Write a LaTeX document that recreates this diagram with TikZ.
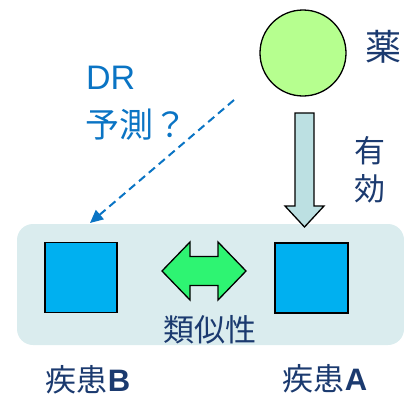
\documentclass[tikz,border=0pt]{standalone}
\usepackage{fontspec}
\setmainfont{Liberation Sans}
\newfontfamily\jp{Noto Sans CJK JP}
\newfontfamily\latb{Liberation Sans}[BoldFont={Liberation Sans Bold}]
\usetikzlibrary{arrows.meta}
\definecolor{navy}{HTML}{1B3A6F}
\definecolor{drblue}{HTML}{0A74C4}
\definecolor{lgreen}{HTML}{B6FF8F}
\definecolor{bgbox}{HTML}{DAECEE}
\definecolor{sqblue}{HTML}{00B0F0}
\definecolor{arrowfill}{HTML}{BCE0E2}
\definecolor{dgreen}{HTML}{2EF472}
\tikzset{
  lbl/.style={inner sep=0pt, text=navy, font=\jp\fontsize{31}{37}\selectfont},
  drlbl/.style={inner sep=0pt, text=drblue, anchor=west},
  disease/.style={draw=black, line width=1.4pt, fill=sqblue, minimum width=72pt, minimum height=70pt, inner sep=0pt},
  blockarrow/.style={draw=black, line width=1.3pt, line join=miter},
}
\begin{document}
\begin{tikzpicture}[x=1pt,y=-1pt]
\useasboundingbox (0,0) rectangle (404,397);
% background
\node[fill=bgbox, rounded corners=16pt, minimum width=387pt, minimum height=121pt, inner sep=0pt] (bg) at (210.5,284.5) {};
% drug
\node[circle, draw=black, line width=1.3pt, fill=lgreen, minimum size=86pt, inner sep=0pt] (drug) at (303,53) {};
\node[lbl, font=\jp\fontsize{36}{40}\selectfont] (kusuri) at (383,47) {薬};
% diseases
\node[disease] (B) at (81,277.5) {};
\node[disease, minimum width=73pt] (A) at (311.5,278) {};
% effective arrow
\draw[blockarrow, fill=arrowfill] (295,113) -- (314,113) -- (314,206) -- (324,206) -- (304.5,227) -- (285,206) -- (295,206) -- cycle;
\node[lbl, align=center, font=\jp\fontsize{31}{38}\selectfont] (yuko) at (370,170) {有\\効};
% similarity double arrow
\draw[blockarrow, fill=dgreen] (162,271) -- (190,242) -- (190,256.5) -- (218,256.5) -- (218,242) -- (246,271) -- (218,300) -- (218,285.5) -- (190,285.5) -- (190,300) -- cycle;
\node[lbl] (sim) at (210,330) {類似性};
% DR prediction
\coordinate (drs) at (234,100);
\coordinate (dre) at (90,223);
\draw[drblue, line width=2pt, dash pattern=on 8pt off 5pt, -{Triangle[length=13pt,width=12pt]}] (drs) -- (dre);
\node[drlbl, font=\fontsize{34}{38}\selectfont] (dr) at (86,78) {DR};
\node[drlbl, font=\jp\fontsize{34}{38}\selectfont] (yosoku) at (85,125) {予測？};
% labels
\node[lbl] (labB) at (88,380) {疾患{\latb\bfseries B}};
\node[lbl] (labA) at (325,379) {疾患{\latb\bfseries A}};
\end{tikzpicture}
\end{document}
